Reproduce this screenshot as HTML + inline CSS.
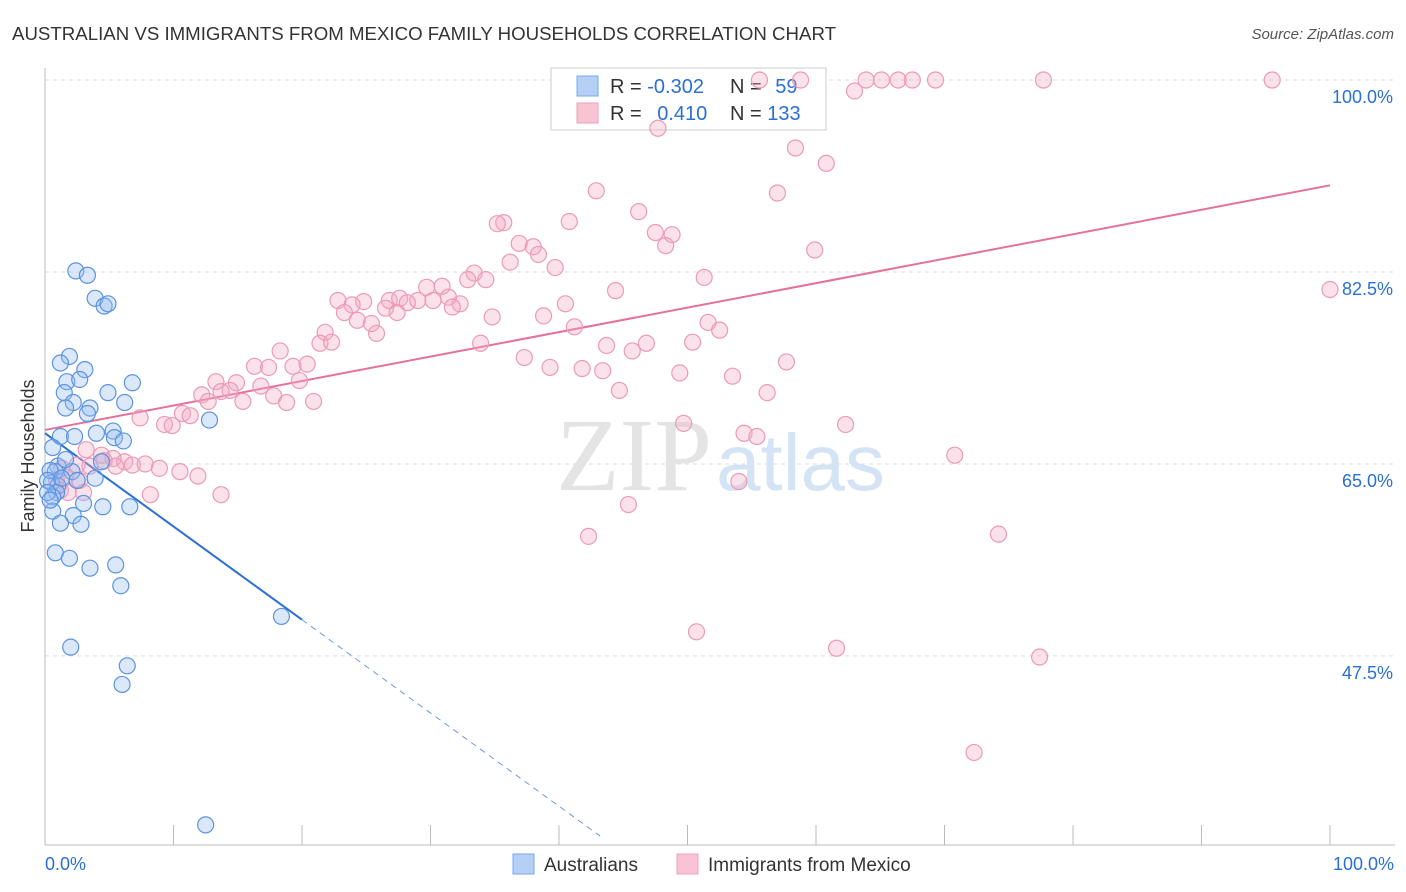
<!DOCTYPE html>
<html><head><meta charset="utf-8"><style>
body{margin:0;background:#fff;font-family:"Liberation Sans",sans-serif;}
#wrap{position:relative;width:1406px;height:892px;overflow:hidden;}
</style></head><body>
<div id="wrap">
<svg id="chart" width="1406" height="892">
<text x="12" y="40" font-size="18" fill="#333" textLength="824" lengthAdjust="spacingAndGlyphs">AUSTRALIAN VS IMMIGRANTS FROM MEXICO FAMILY HOUSEHOLDS CORRELATION CHART</text>
<text x="1394" y="39" font-size="15" fill="#555" text-anchor="end" font-style="italic">Source: ZipAtlas.com</text>
<text x="34" y="456" font-size="18" fill="#333" text-anchor="middle" transform="rotate(-90 34 456)">Family Households</text>
<g id="grid"></g>
<text x="712" y="490" font-size="104" fill="#e4e4e4" text-anchor="end" font-family="Liberation Serif">ZIP</text>
<text x="716" y="490" font-size="80" fill="#d5e4f5">atlas</text>
<g id="lines"></g>
<g>
<rect x="551" y="68" width="275" height="62" fill="#fff" stroke="#ccc"/>
<rect x="577" y="76" width="21" height="20" fill="#b4d0f4" stroke="#7aa8e8"/>
<rect x="577" y="103" width="21" height="20" fill="#f8c4d4" stroke="#eca0bc"/>
<text x="610" y="93" font-size="20" fill="#333">R = <tspan fill="#2a6fd6">-0.302</tspan></text>
<text x="730" y="93" font-size="20" fill="#333">N = <tspan fill="#2a6fd6" dx="8">59</tspan></text>
<text x="610" y="120" font-size="20" fill="#333">R = <tspan fill="#2a6fd6" dx="10">0.410</tspan></text>
<text x="730" y="120" font-size="20" fill="#333">N = <tspan fill="#2a6fd6">133</tspan></text>
</g>
<g id="pts"></g>
<g>
<rect x="513" y="854" width="21" height="20" fill="#b4d0f4" stroke="#7aa8e8"/>
<text x="544" y="871" font-size="19" fill="#333">Australians</text>
<rect x="677" y="854" width="21" height="20" fill="#f8c4d4" stroke="#eca0bc"/>
<text x="708" y="871" font-size="19" fill="#333">Immigrants from Mexico</text>
</g>
<text x="45" y="870" font-size="18" fill="#2a6fd6">0.0%</text>
<text x="1394" y="870" font-size="18" fill="#2a6fd6" text-anchor="end">100.0%</text>
</svg>
</div>
<script>
const yTicks=[100,82.5,65,47.5];
const yTickLabels=["100.0%","82.5%","65.0%","47.5%"];
const xTicks=[0,10,20,30,40,50,60,70,80,90,100];
const ausX=[2.4,3.3,3.9,4.6,4.9,1.9,1.2,3.1,1.7,2.7,6.8,1.5,4.9,6.2,2.2,1.6,3.5,3.3,12.8,5.3,4.0,1.2,2.3,5.4,6.1,0.6,4.4,1.0,0.8,2.1,3.9,2.5,0.5,1.0,0.9,0.6,3.0,4.5,6.6,0.6,2.2,1.2,2.8,0.8,1.9,3.5,5.5,5.9,18.4,2.0,6.4,6.0,12.5,0.4,0.2,1.3,0.2,0.4,1.6];
const ausY=[82.6,82.2,80.1,79.4,79.6,74.8,74.2,73.6,72.5,72.7,72.4,71.5,71.5,70.6,70.6,70.1,70.1,69.6,69.0,68.0,67.8,67.5,67.5,67.4,67.1,66.5,65.2,64.8,64.3,64.3,63.7,63.5,63.3,63.0,62.4,62.0,61.4,61.1,61.1,60.7,60.3,59.6,59.5,56.9,56.4,55.5,55.8,53.9,51.1,48.3,46.6,44.9,32.1,64.4,63.5,63.7,62.4,61.7,65.4];
const mexX=[55.6,58.8,63.9,65.1,66.4,67.5,69.3,77.7,95.5,63.0,47.7,58.4,60.8,42.9,57.0,46.2,35.7,35.2,40.8,47.5,48.8,36.9,38.0,48.3,38.4,36.2,59.9,39.7,33.4,32.9,34.3,51.3,44.4,30.9,29.7,100,22.8,24.8,23.9,26.8,27.6,29.0,28.2,30.2,31.4,32.3,31.7,40.5,26.5,27.4,23.3,24.3,25.4,25.8,21.8,34.8,38.8,51.6,52.5,41.2,21.4,22.3,33.9,43.7,46.8,45.7,50.4,37.3,39.3,18.3,16.3,17.4,19.3,20.4,41.8,43.4,57.7,49.4,53.5,19.8,13.3,14.9,14.4,16.8,12.2,13.7,44.7,56.2,12.7,15.4,17.8,18.8,20.9,10.7,11.3,7.4,9.3,9.9,49.7,62.3,54.4,55.4,70.8,3.2,4.4,5.3,6.2,4.6,5.5,6.8,7.8,8.9,10.5,11.9,1.3,2.5,3.5,1.6,0.9,2.7,1.2,1.8,3.0,8.2,13.7,54.0,45.4,42.3,74.2,50.7,61.6,77.4,72.3];
const mexY=[100,100,100,100,100,100,100,100,100,99.0,95.6,93.8,92.4,89.9,89.7,88.0,87.0,86.9,87.1,86.1,85.9,85.1,84.8,84.9,84.1,83.4,84.5,82.9,82.4,81.8,81.8,82.0,80.8,81.2,81.1,80.9,79.9,79.8,79.5,79.9,80.1,79.9,79.7,79.9,80.2,79.6,79.3,79.6,79.2,78.8,78.8,78.1,77.8,76.9,77.0,78.4,78.5,77.9,77.2,77.5,76.0,76.1,76.0,75.8,76.0,75.3,76.1,74.7,73.8,75.3,73.9,73.8,73.9,74.1,73.7,73.5,74.3,73.3,73.0,72.6,72.5,72.4,71.7,72.1,71.3,71.6,71.7,71.5,70.7,70.7,71.2,70.6,70.7,69.6,69.4,69.2,68.6,68.5,68.7,68.6,67.8,67.5,65.8,66.3,65.8,65.5,65.2,65.3,64.8,64.9,65.0,64.6,64.3,63.9,64.6,64.9,64.8,63.8,63.5,63.5,62.6,62.4,62.4,62.2,62.2,63.4,61.3,58.4,58.6,49.7,48.2,47.4,38.7];
const ausTrend=[67.8,-0.85];
const mexTrend=[68.1,0.223];

const NS="http://www.w3.org/2000/svg";
const X0=45,X1=1330,Y100=80,PPU=10.97;
const sx=v=>X0+(X1-X0)*v/100;
const sy=v=>Y100+(100-v)*PPU;
function mk(tag,attrs,parent){const e=document.createElementNS(NS,tag);for(const k in attrs)e.setAttribute(k,attrs[k]);parent.appendChild(e);return e;}
const grid=document.getElementById('grid');
yTicks.forEach((t,i)=>{
  const l=mk('line',{x1:X0,x2:1395,y1:sy(t),y2:sy(t),stroke:'#ddd','stroke-dasharray':'4,4'},grid);
  
  
  const tx=mk('text',{x:1393,y:sy(t)+23,'font-size':18,fill:'#2a6fd6','text-anchor':'end'},grid);
  tx.textContent=yTickLabels[i];
  
  
});
const ax=mk('line',{x1:X0,x2:X0,y1:68,y2:845,stroke:'#bbb'},grid);


const bx=mk('line',{x1:X0,x2:1395,y1:845,y2:845,stroke:'#bbb'},grid);


xTicks.forEach(t=>{
  const l=mk('line',{x1:sx(t),x2:sx(t),y1:825,y2:845,stroke:'#bbb'},grid);
  
  
});
const lines=document.getElementById('lines');
const f=(tr,x)=>tr[0]+tr[1]*x;
let l1=mk('line',{x1:sx(0),y1:sy(f(ausTrend,0)),x2:sx(20),y2:sy(f(ausTrend,20)),stroke:'#2a6fd6','stroke-width':2},lines);


let l2=mk('line',{x1:sx(20),y1:sy(f(ausTrend,20)),x2:sx(43.2),y2:sy(f(ausTrend,43.2)),stroke:'#6a9ae0','stroke-width':1,'stroke-dasharray':'6,5'},lines);


const pts=document.getElementById('pts');
mexX.forEach((x,i)=>{
  const c=mk('circle',{cx:sx(x),cy:sy(mexY[i]),r:8,fill:'rgba(244,168,196,0.35)',stroke:'#eb9ab8','stroke-width':1.2},pts);
  
  
});
ausX.forEach((x,i)=>{
  const c=mk('circle',{cx:sx(x),cy:sy(ausY[i]),r:8,fill:'rgba(150,190,240,0.35)',stroke:'#5b93e0','stroke-width':1.2},pts);
  
  
});
let l3=mk('line',{x1:sx(0),y1:sy(f(mexTrend,0)),x2:sx(100),y2:sy(f(mexTrend,100)),stroke:'#e5709c','stroke-width':2},lines);


</script>
</body></html>
